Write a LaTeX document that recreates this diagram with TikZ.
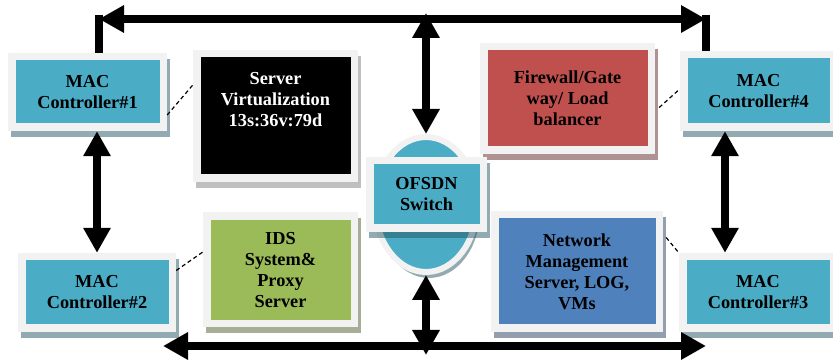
\documentclass[tikz,border=0pt]{standalone}
\usepackage{fontspec}
\setmainfont{Liberation Serif}
\usepackage{xcolor}
\usepackage{tikz}
\usetikzlibrary{shapes,arrows.meta}
\usetikzlibrary{shadows}
\usetikzlibrary{positioning}
\definecolor{macblue}{HTML}{4BACC6}
\definecolor{fwred}{HTML}{C0504D}
\definecolor{idsgreen}{HTML}{9BBB59}
\definecolor{nmsblue}{HTML}{4F81BD}
\definecolor{framegray}{HTML}{F2F2F2}
\tikzset{box/.style 2 args={rectangle, fill=framegray, inner sep=0pt,
    align=center, font=\bfseries\fontsize{18.3}{21}\selectfont,
    drop shadow={shadow xshift=3pt, shadow yshift=-6pt, fill=#2, opacity=.5},
    path picture={\fill[#1] ([shift={(7.5pt,-7.5pt)}]path picture bounding box.north west)
        rectangle ([shift={(-7.5pt,7.5pt)}]path picture bounding box.south east);}}}
\tikzstyle{txt} = [align=center, inner sep=0pt, font=\bfseries\fontsize{18.3}{21}\selectfont]
\tikzstyle{bus} = [draw, line width=8.5pt,
    {Triangle[length=25pt,width=26pt]}-{Triangle[length=25pt,width=26pt]}]
\tikzstyle{stub} = [draw, line width=8.5pt]
\tikzstyle{link} = [draw, line width=1.2pt, dash pattern=on 4pt off 3pt]

\begin{document}
\begin{tikzpicture}[x=1pt,y=-1pt]
    \useasboundingbox (0,0) rectangle (833,363);
    % Place nodes
    \node [ellipse, fill=macblue, draw=framegray, line width=6pt, inner sep=0pt,
        minimum width=102pt, minimum height=135pt,
        drop shadow={shadow xshift=3pt, shadow yshift=-6pt, fill=macblue!50!black, opacity=.5}]
        (swell) at (426,204.5) {};
    \node [box={macblue}{macblue!50!black}, minimum width=159pt, minimum height=78pt]
        (mac1) at (87.5,92) {MAC\\Controller\#1};
    \node [box={macblue}{macblue!50!black}, minimum width=158pt, minimum height=79pt]
        (mac2) at (97,292.5) {MAC\\Controller\#2};
    \node [box={macblue}{macblue!50!black}, minimum width=158pt, minimum height=79pt]
        (mac3) at (758,292.5) {MAC\\Controller\#3};
    \node [box={macblue}{macblue!50!black}, minimum width=157pt, minimum height=80pt]
        (mac4) at (758.5,91) {MAC\\Controller\#4};
    \node [box={black}{black!50}, minimum width=165pt, minimum height=132pt]
        (srv) at (275.5,116) {};
    \node [txt, text=white] (srvtxt) at (275.5,100) {Server\\Virtualization\\13s:36v:79d};
    \node [box={fwred}{fwred!50!black}, minimum width=175pt, minimum height=111pt]
        (fw) at (567.5,98.5) {Firewall/Gate\\way/ Load\\balancer};
    \node [box={idsgreen}{idsgreen!50!black}, minimum width=155pt, minimum height=115pt]
        (ids) at (280.5,270) {IDS\\System\&\\Proxy\\Server};
    \node [box={nmsblue}{nmsblue!50!black}, minimum width=172pt, minimum height=121pt]
        (nms) at (577,271.5) {Network\\Management\\Server, LOG,\\VMs};
    \node [box={macblue}{macblue!50!black}, minimum width=121pt, minimum height=75pt]
        (sw) at (426.5,194.5) {OFSDN\\Switch};
    % Draw edges
    \coordinate (tl) at (99,19);
    \coordinate (tr) at (706,19);
    \coordinate (bl) at (163,346);
    \coordinate (br) at (706,346);
    \coordinate (rv) at (725,0);
    \path [stub] (tl |- mac1.north) -- (99,15);
    \path [stub] (tr |- mac4.north) -- (706,15);
    \path [bus] (tl) -- (tr);
    \path [bus] (bl) -- (br);
    \path [bus] (swell.north) -- (swell.north |- 0,13);
    \path [bus] (swell.south) -- (swell.south |- 0,355);
    \path [bus] (mac2.north |- mac1.south) -- (mac2.north);
    \path [bus] (rv |- mac4.south) -- (rv |- mac3.north);
    \path [link] ([yshift=-23pt]mac1.east) -- ([yshift=31pt]srv.west);
    \path [link] ([yshift=22pt]mac2.east) -- ([yshift=18pt]ids.west);
    \path [link] ([xshift=4pt,yshift=-9pt]fw.east) -- ([yshift=2pt]mac4.west);
    \path [link] ([xshift=3pt,yshift=34pt]nms.east) -- (mac3.north west);
\end{tikzpicture}
\end{document}
